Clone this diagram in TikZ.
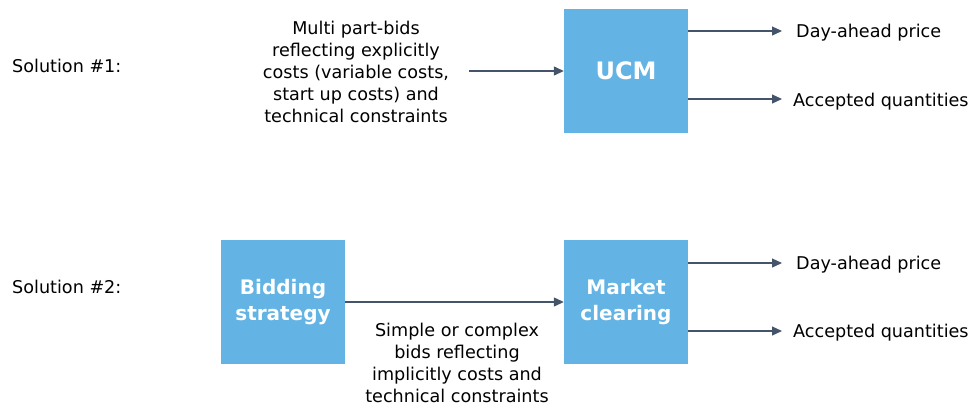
\documentclass[tikz,border=0pt]{standalone}
\usepackage{fontspec}
\setmainfont{DejaVu Sans}
\usetikzlibrary{arrows.meta}
\definecolor{boxblue}{RGB}{99,180,228}
\definecolor{arrowc}{RGB}{68,84,106}
\begin{document}
\begin{tikzpicture}[x=1pt,y=-1pt,
  bx/.style={fill=boxblue,draw=none,minimum width=124pt,minimum height=124pt,inner sep=0pt,
    text=white,font=\fontsize{20}{26}\selectfont\bfseries,align=center},
  lbl/.style={font=\fontsize{17.6}{21.8}\selectfont,inner sep=0pt,text=black},
  arr/.style={draw=arrowc,line width=1.2pt,-{Triangle[length=10pt,width=9pt]}}]
\useasboundingbox (0,0) rectangle (976,405);
\node[bx,font=\fontsize{24}{28}\selectfont\bfseries] (ucm) at (626,71) {UCM};
\node[bx] (bid) at (283,302) {Bidding\\strategy};
\node[bx] (mc) at (626,302) {Market\\clearing};
\node[lbl,anchor=base west] (s1) at (12,72) {Solution \#1:};
\node[lbl,anchor=base west] (s2) at (12,293) {Solution \#2:};
\node[lbl,align=center] (t1) at (356,72) {Multi part-bids\\reflecting explicitly\\costs (variable costs,\\start up costs) and\\technical constraints};
\coordinate (t1e) at (469,71);
\node[lbl,align=center] (t2) at (457,363) {Simple or complex\\bids reflecting\\implicitly costs and\\technical constraints};
\node[lbl,anchor=base west] (d1) at (796,37) {Day-ahead price};
\node[lbl,anchor=base west] (a1) at (793,106) {Accepted quantities};
\node[lbl,anchor=base west] (d2) at (796,269) {Day-ahead price};
\node[lbl,anchor=base west] (a2) at (793,337) {Accepted quantities};
\coordinate (e1) at (782,31);
\coordinate (e2) at (782,99);
\coordinate (e3) at (782,263);
\coordinate (e4) at (782,331);
\draw[arr] (t1e) -- (ucm.west);
\draw[arr] (bid.east) -- (mc.west);
\draw[arr] (ucm.east |- e1) -- (e1);
\draw[arr] (ucm.east |- e2) -- (e2);
\draw[arr] (mc.east |- e3) -- (e3);
\draw[arr] (mc.east |- e4) -- (e4);
\end{tikzpicture}
\end{document}
